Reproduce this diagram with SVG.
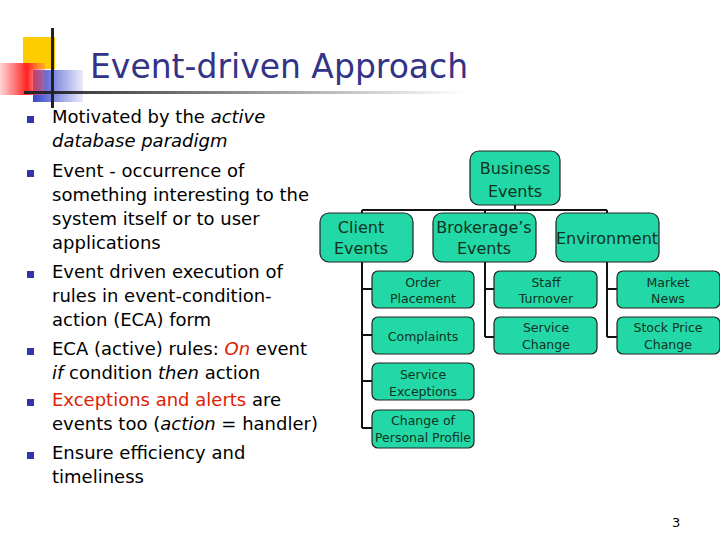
<svg xmlns="http://www.w3.org/2000/svg" width="720" height="540" viewBox="0 0 720 540">
<style>
.t{font-family:"DejaVu Sans",Verdana,sans-serif;font-size:18px;fill:#000}
.n rect{fill:#22D8A6;stroke:#222;stroke-width:1.2}
.n text{font-family:"DejaVu Sans",Verdana,sans-serif;fill:#113322;text-anchor:middle}
.b{font-size:16px}.s{font-size:12.5px}
.bl{fill:#3333aa}
</style>
<defs>
<linearGradient id="r" x1="0" x2="1"><stop offset="0" stop-color="#ff3333" stop-opacity="0.2"/><stop offset="0.6" stop-color="#ff2222"/><stop offset="1" stop-color="#ff6666" stop-opacity="0.3"/></linearGradient>
<linearGradient id="h" x1="0" x2="1"><stop offset="0" stop-color="#222"/><stop offset="1" stop-color="#222" stop-opacity="0"/></linearGradient>
<linearGradient id="bg" x1="0" x2="1"><stop offset="0" stop-color="#3344cc"/><stop offset="1" stop-color="#3344cc" stop-opacity="0.1"/></linearGradient>
</defs>
<rect width="720" height="540" fill="#fff"/>
<g id="deco">
<rect x="23" y="37" width="32" height="32" fill="#ffcc00"/>
<rect x="33" y="70" width="50" height="32" fill="url(#bg)"/>
<rect x="0" y="63" width="45" height="32" fill="url(#r)"/>
<rect x="51" y="28" width="3" height="80" fill="#222"/>
<rect x="24" y="91" width="440" height="3" fill="url(#h)"/>
</g>
<text x="90" y="78" font-family="DejaVu Sans,Verdana,sans-serif" font-size="33" fill="#333388">Event-driven Approach</text>
<g id="bullets" class="bl">
<rect x="27" y="116" width="7" height="7"/><rect x="27" y="170" width="7" height="7"/><rect x="27" y="271" width="7" height="7"/><rect x="27" y="348" width="7" height="7"/><rect x="27" y="399" width="7" height="7"/><rect x="27" y="452" width="7" height="7"/>
</g>
<g id="body" class="t">
<text x="52" y="123">Motivated by the <tspan font-style="italic">active</tspan></text>
<text x="52" y="147" font-style="italic">database paradigm</text>
<text x="52" y="177">Event - occurrence of</text>
<text x="52" y="201">something interesting to the</text>
<text x="52" y="225">system itself or to user</text>
<text x="52" y="249">applications</text>
<text x="52" y="278">Event driven execution of</text>
<text x="52" y="302">rules in event-condition-</text>
<text x="52" y="326">action (ECA) form</text>
<text x="52" y="355">ECA (active) rules: <tspan font-style="italic" fill="#dd2200">On</tspan> event</text>
<text x="52" y="379"><tspan font-style="italic">if</tspan> condition <tspan font-style="italic">then</tspan> action</text>
<text x="52" y="406"><tspan fill="#dd2200">Exceptions and alerts</tspan> are</text>
<text x="52" y="430">events too (<tspan font-style="italic">action</tspan> = handler)</text>
<text x="52" y="459">Ensure efficiency and</text>
<text x="52" y="483">timeliness</text>
</g>
<g id="connectors" stroke="#111" stroke-width="2" fill="none">
<path d="M515 205V210M362 210H607M362 210V213M485 210V213M607 210V213"/>
<path d="M362 262V428M362 289H372M362 335H372M362 381H372M362 428H372"/>
<path d="M485 262V337M485 289H494M485 337H494"/>
<path d="M607 262V337M607 289H617M607 337H617"/>
</g>
<g id="business" class="n"><rect x="470" y="151" width="90" height="54" rx="9"/><text class="b" x="515" y="174">Business</text><text class="b" x="515" y="197">Events</text></g>
<g id="client" class="n"><rect x="320" y="213" width="93" height="49" rx="9"/><text class="b" x="361" y="233">Client</text><text class="b" x="361" y="254">Events</text></g>
<g id="brokerage" class="n"><rect x="433" y="213" width="103" height="49" rx="9"/><text class="b" x="484" y="233">Brokerage’s</text><text class="b" x="484" y="254">Events</text></g>
<g id="environment" class="n"><rect x="556" y="213" width="103" height="49" rx="9"/><text class="b" x="607" y="244">Environment</text></g>
<g id="order" class="n"><rect x="372" y="271" width="102" height="37" rx="6"/><text class="s" x="423" y="287">Order</text><text class="s" x="423" y="303">Placement</text></g>
<g id="complaints" class="n"><rect x="372" y="317" width="102" height="37" rx="6"/><text class="s" x="423" y="341">Complaints</text></g>
<g id="servexc" class="n"><rect x="372" y="363" width="102" height="37" rx="6"/><text class="s" x="423" y="379">Service</text><text class="s" x="423" y="396">Exceptions</text></g>
<g id="profile" class="n"><rect x="372" y="410" width="102" height="38" rx="6"/><text class="s" x="423" y="425">Change of</text><text class="s" x="423" y="442">Personal Profile</text></g>
<g id="staff" class="n"><rect x="494" y="271" width="103" height="37" rx="6"/><text class="s" x="546" y="287">Staff</text><text class="s" x="546" y="303">Turnover</text></g>
<g id="servchange" class="n"><rect x="494" y="317" width="103" height="37" rx="6"/><text class="s" x="546" y="332">Service</text><text class="s" x="546" y="349">Change</text></g>
<g id="market" class="n"><rect x="617" y="271" width="103" height="37" rx="6"/><text class="s" x="668" y="287">Market</text><text class="s" x="668" y="303">News</text></g>
<g id="stock" class="n"><rect x="617" y="317" width="103" height="37" rx="6"/><text class="s" x="668" y="332">Stock Price</text><text class="s" x="668" y="349">Change</text></g>
<text x="672" y="527" font-family="DejaVu Sans,sans-serif" font-size="13">3</text>
</svg>
